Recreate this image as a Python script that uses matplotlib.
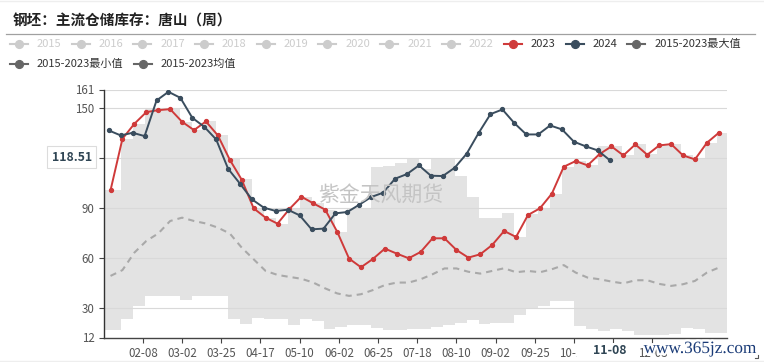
import matplotlib
matplotlib.use('Agg')
import matplotlib.pyplot as plt
import numpy as np
import pandas as pd
from matplotlib.lines import Line2D
from matplotlib.patches import Rectangle
import matplotlib.patheffects as pe

plt.rcParams['font.family'] = ['Noto Sans CJK SC', 'DejaVu Sans']

# ---------------- data ----------------
title = '钢坯：主流仓储库存：唐山（周）'
legend_labels = ['2015', '2016', '2017', '2018', '2019', '2020', '2021', '2022',
                 '2023', '2024', '2015-2023最大值', '2015-2023最小值', '2015-2023均值']

start_2023 = '2023-01-20'
start_2024 = '2024-01-19'

v2023 = [100.4, 131.4, 140.4, 147.4, 148.6, 149.2, 141.6, 136.6, 141.8, 133.4,
         118.8, 106.8, 89.6, 84.0, 80.4, 89.2, 96.6, 92.6, 88.8, 75.6,
         59.4, 54.2, 59.2, 65.4, 62.4, 59.6, 63.4, 71.6, 71.6, 64.6,
         60.0, 62.0, 67.6, 76.0, 72.4, 85.6, 89.6, 98.4, 114.6, 118.0,
         115.4, 122.2, 126.8, 121.4, 128.0, 121.8, 127.4, 128.2, 121.4, 119.0,
         129.0, 135.0]

v2024 = [136.4, 133.4, 135.0, 133.0, 154.4, 159.6, 156.0, 144.0, 138.6, 131.0,
         113.4, 104.4, 95.0, 90.0, 88.0, 88.8, 85.4, 77.0, 77.4, 86.6,
         87.4, 91.8, 96.4, 99.0, 107.4, 110.2, 115.4, 109.2, 109.0, 114.0,
         122.4, 134.8, 146.2, 149.0, 140.8, 134.0, 134.0, 139.4, 137.0, 129.6,
         126.8, 124.4, 118.51]

max_2015_2023 = [100.4, 131.4, 140.4, 149.0, 149.0, 149.5, 141.6, 136.6, 141.8, 133.4,
                 119.0, 107.0, 89.6, 84.0, 80.4, 89.2, 96.6, 92.6, 88.8, 75.6,
                 90.0, 90.0, 114.5, 115.0, 117.0, 119.5, 113.0, 120.0, 120.0, 109.0,
                 96.5, 84.0, 84.0, 87.0, 72.4, 86.0, 90.0, 98.4, 114.6, 118.0,
                 115.4, 127.0, 127.0, 121.5, 128.0, 122.0, 128.0, 128.2, 121.5, 119.0,
                 129.0, 135.0]

min_2015_2023 = [16.4, 23.0, 31.0, 37.0, 37.0, 37.0, 34.4, 37.0, 37.0, 37.0,
                 23.0, 20.4, 23.6, 23.0, 23.0, 19.6, 23.0, 22.0, 17.0, 18.4,
                 19.8, 19.8, 17.8, 16.4, 16.4, 17.4, 17.4, 18.4, 19.4, 21.0,
                 22.4, 20.0, 20.6, 20.6, 25.5, 29.3, 31.0, 34.2, 34.2, 19.0,
                 17.4, 16.0, 17.4, 16.0, 13.6, 13.6, 13.6, 14.4, 18.0, 17.0,
                 15.0, 15.0]

mean_2015_2023 = [49.0, 52.5, 63.0, 70.0, 74.5, 82.0, 84.0, 82.0, 80.5, 78.0,
                  74.5, 66.0, 59.0, 52.0, 49.6, 48.4, 47.3, 45.0, 41.5, 38.5,
                  37.0, 38.0, 40.5, 43.5, 45.0, 45.0, 47.0, 50.0, 53.5, 53.5,
                  51.5, 50.4, 52.0, 53.6, 51.2, 52.0, 51.2, 53.0, 55.5, 51.0,
                  48.0, 47.0, 45.6, 44.5, 46.4, 46.4, 44.2, 43.0, 44.0, 46.0,
                  51.0, 54.0]

# '11-10' is hidden behind the highlighted pointer label in the reference
x_tick_labels = ['02-08', '03-02', '03-25', '04-17', '05-10', '06-02', '06-25',
                 '07-18', '08-10', '09-02', '09-25', '10-18', '11-10', '12-03']
hidden_tick_labels = ['11-10']
y_ticks = [12, 30, 60, 90, 120, 150, 161]
y_tick_labels = ['12', '30', '60', '90', '', '150', '161']
pointer_value = 118.51
pointer_date = '11-08'

# ---------------- positions on the seasonal axis (days from 01-16) ----------------
def season_pos(dates, year):
    return (dates - pd.Timestamp(f'{year}-01-16')).days.values.astype(float)

d23 = pd.date_range(start_2023, periods=len(v2023), freq='7D')
x23 = season_pos(d23, 2023)
d24 = pd.date_range(start_2024, periods=len(v2024), freq='7D')
x24 = season_pos(d24, 2024)
tick_x = [(pd.Timestamp('2024-' + s) - pd.Timestamp('2024-01-16')).days for s in x_tick_labels]
pointer_x = (pd.Timestamp('2024-' + pointer_date) - pd.Timestamp('2024-01-16')).days
XMAX = 365.8

# ---------------- figure ----------------
W, H = 764, 362
fig = plt.figure(figsize=(W / 100, H / 100), dpi=100)
fig.patch.set_facecolor('white')

def fx(px):
    return px / W

def fy(py):
    return 1 - py / H

ax = fig.add_axes([fx(103.7), fy(337.5), (727 - 103.7) / W, (337.5 - 89.5) / H])
ax.set_xlim(0, XMAX)
ax.set_ylim(12, 161)

# band between min and max (step shaped)
edges = np.concatenate([[0], x23[1:] - 1, [XMAX]])
mx = np.append(max_2015_2023, max_2015_2023[-1])
mn = np.append(min_2015_2023, min_2015_2023[-1])
ax.fill_between(edges, mn, mx, step='post', color='#e3e3e3', lw=0, zorder=1)

# grid
for yv in y_ticks[1:]:
    ax.axhline(yv, color='#d9d9d9', lw=0.8, zorder=1.5)

# mean dashed
ax.plot(x23, mean_2015_2023, color='#a9a9a9', lw=1.5, ls=(0, (3.0, 2.4)), zorder=3)

# 2023 and 2024
ax.plot(x23, v2023, color='#cf3a3a', lw=1.4, marker='o', ms=2.8, zorder=4)
ax.plot(x24, v2024, color='#3a4d5e', lw=1.4, marker='o', ms=2.8, zorder=5)

# axes styling
for s in ['top', 'right']:
    ax.spines[s].set_visible(False)
ax.spines['left'].set_color('#333333')
ax.spines['bottom'].set_color('#444444')
ax.spines['left'].set_linewidth(1.0)
ax.spines['bottom'].set_linewidth(1.0)
ax.set_yticks(y_ticks)
ax.set_yticklabels(y_tick_labels)
ax.set_xticks(tick_x)
ax.set_xticklabels(['' if s in hidden_tick_labels else s for s in x_tick_labels])
ax.tick_params(axis='both', colors='#444444', labelcolor='#555555', labelsize=8.3,
               length=3.5, width=0.8)
ax.tick_params(axis='x', pad=3)
ax.tick_params(axis='y', pad=3)

# pointer labels
ax.annotate(f'{pointer_value:.2f}', xy=(0, pointer_value), xycoords=('axes fraction', 'data'),
            xytext=(-12, 3), textcoords='offset pixels', ha='right', va='center',
            fontsize=8.8, fontweight='bold', color='#2f4554', zorder=10,
            bbox=dict(boxstyle='square,pad=0.35', fc='white', ec='#dcdcdc', lw=0.8),
            annotation_clip=False)

ax.add_patch(Rectangle((fx(576.5), fy(361)), (640 - 576.5) / W, (361 - 342.5) / H,
                       transform=fig.transFigure, fc='white', ec='none', zorder=9,
                       clip_on=False))
ax.annotate(pointer_date, xy=(pointer_x, 0), xycoords=('data', 'axes fraction'),
            xytext=(0, -13), textcoords='offset pixels', ha='center', va='center',
            fontsize=8.8, fontweight='bold', color='#2f4554', zorder=10,
            annotation_clip=False)

# watermark inside plot
fig.text(fx(381), fy(195), '紫金天风期货', fontsize=15, color='#c4c4c4',
         ha='center', va='center', zorder=6)

# bottom-right site mark
fig.text(fx(700), fy(349), 'www.365jz.com', fontsize=12.4, family='Liberation Serif',
         color='#1b3c78', ha='center', va='center', zorder=12,
         path_effects=[pe.withStroke(linewidth=3, foreground='white')])
fig.add_artist(Line2D([fx(755), fx(758), fx(758)], [fy(358), fy(358), fy(355)],
                      color='#555555', lw=0.8))

# title + separator
fig.text(fx(13), fy(21), title, fontsize=10.5, fontweight='bold', color='#222222',
         ha='left', va='center')
fig.add_artist(Line2D([fx(6), fx(755)], [fy(34.3), fy(34.3)], color='#a0a0a0', lw=0.9))
fig.add_artist(Line2D([0, 1], [fy(0.8), fy(0.8)], color='#eeeeee', lw=1))
fig.add_artist(Line2D([0, 1], [fy(360.5), fy(360.5)], color='#eeeeee', lw=1))

# legend (manual, flowing)
grey = '#cccccc'
leg_colors = [grey] * 8 + ['#cf3a3a', '#3a4d5e', '#666666', '#666666', '#666666']
txt_colors = [grey] * 8 + ['#333333'] * 5
fig.canvas.draw()
r = fig.canvas.get_renderer()
row_y = [44.3, 64.3]
x = 10.0
row = 0
for i, lab in enumerate(legend_labels):
    if i == 11:
        row = 1
        x = 10.0
    yy = fy(row_y[row])
    fig.add_artist(Line2D([fx(x), fx(x + 18)], [yy, yy], color=leg_colors[i], lw=1.5))
    fig.add_artist(Line2D([fx(x + 9)], [yy], color=leg_colors[i], marker='o', ms=5.6,
                          lw=0))
    t = fig.text(fx(x + 27), yy, lab, fontsize=8.0, color=txt_colors[i],
                 ha='left', va='center')
    bb = t.get_window_extent(r)
    x = bb.x1 + 10

fig.savefig('out.png', dpi=100)
